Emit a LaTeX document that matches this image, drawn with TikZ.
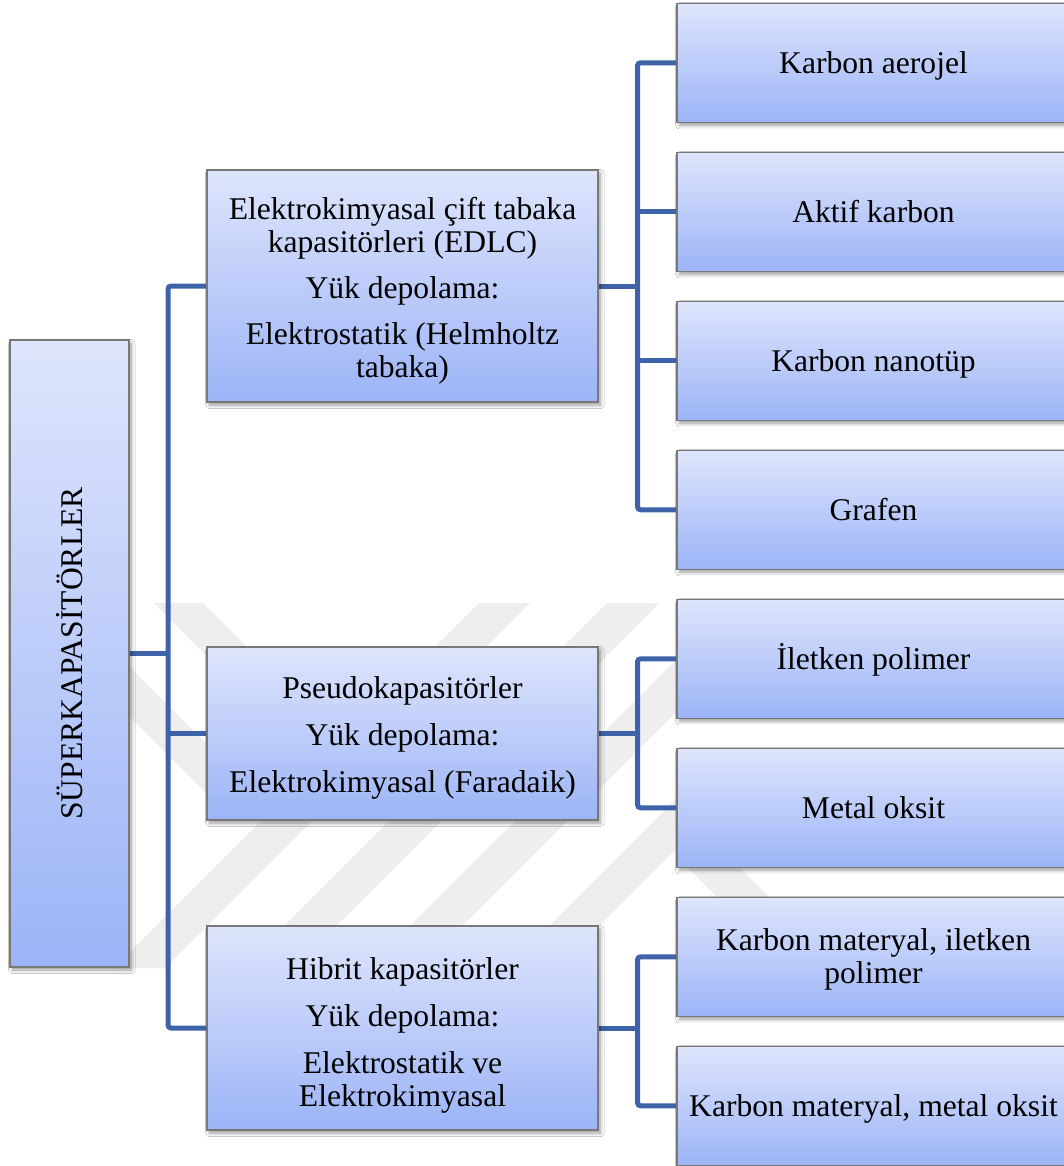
\documentclass[tikz,border=0pt]{standalone}
\usepackage{fontspec}
\setmainfont{Liberation Serif}
\usetikzlibrary{shadows.blur}
\definecolor{conncol}{RGB}{62,99,168}
\definecolor{boxtop}{RGB}{222,229,252}
\definecolor{boxbot}{RGB}{156,180,247}
\definecolor{boxline}{RGB}{120,120,120}
\definecolor{wmark}{RGB}{238,238,238}
\pgfdeclarelayer{bg}
\pgfsetlayers{bg,main}
\begin{document}
\begin{tikzpicture}[x=0.5pt,y=-0.5pt,
  boxtext/.style={inner sep=0pt, align=center, font={\fontsize{15.8}{16.5}\selectfont}},
  box/.style={boxtext, draw=boxline, line width=0.6pt, top color=boxtop, bottom color=boxbot,
    blur shadow={shadow xshift=1.2pt, shadow yshift=-1.5pt, shadow opacity=40, shadow blur steps=6}},
  midbox/.style={box, minimum width=195.5pt},
  leafbox/.style={box, minimum width=196.5pt, minimum height=59.5pt},
  oneline/.style={text height=10.4pt, text depth=0pt},
  conn/.style={draw=conncol, line width=2.5pt, rounded corners=1.5pt},
  wm/.style={fill=wmark}]
\useasboundingbox (0,0) rectangle (1064,1166);

% root
\node[box, minimum width=59.5pt, minimum height=313.5pt] (root) at (69.5,653.5) {\rotatebox{90}{SÜPERKAPASİTÖRLER}};

% middle level
\node[midbox, minimum height=116pt] (edlc) at (402.5,286) {};
\node[boxtext] (edlcT) at ([yshift=-2.5pt]edlc.center) {Elektrokimyasal çift tabaka\\kapasitörleri (EDLC)\\[6.5pt]Yük depolama:\\[6.5pt]Elektrostatik (Helmholtz\\tabaka)};
\node[midbox, minimum height=86.5pt] (pse) at (402.5,733.5) {};
\node[boxtext] (pseT) at ([yshift=-2pt]pse.center) {Pseudokapasitörler\\[7pt]Yük depolama:\\[7pt]Elektrokimyasal (Faradaik)};
\node[midbox, minimum height=102pt] (hib) at (402.5,1028) {};
\node[boxtext] (hibT) at ([yshift=-3.5pt]hib.center) {Hibrit kapasitörler\\[7pt]Yük depolama:\\[7pt]Elektrostatik ve\\Elektrokimyasal};

% leaves
\node[leafbox, oneline] (l1) at (873.5,62.8) {Karbon aerojel};
\node[leafbox, oneline] (l2) at (873.5,211.8) {Aktif karbon};
\node[leafbox, oneline] (l3) at (873.5,360.8) {Karbon nanotüp};
\node[leafbox, oneline] (l4) at (873.5,509.8) {Grafen};
\node[leafbox, oneline] (l5) at (873.5,658.8) {İletken polimer};
\node[leafbox, oneline] (l6) at (873.5,807.8) {Metal oksit};
\node[leafbox] (l7) at (873.5,956.8) {};
\node[boxtext] (l7T) at ([yshift=-1.5pt]l7.center) {Karbon materyal, iletken\\polimer};
\node[leafbox, oneline] (l8) at (873.5,1105.8) {Karbon materyal, metal oksit};

\coordinate (tk) at (168,0);
\coordinate (br) at (637.5,0);

\begin{pgfonlayer}{bg}
\fill[white] (0,0) rectangle (1064,1166);
% watermark
\fill[wm] (479,603) -- (530,603) -- (165,968) -- (114,968) -- cycle;
\fill[wm] (607,603) -- (659,603) -- (294,968) -- (242,968) -- cycle;
\fill[wm] (733,603) -- (785,603) -- (420,968) -- (368,968) -- cycle;
\fill[wm] (715,760) -- (765,760) -- (557,968) -- (507,968) -- cycle;
\fill[wm] (154,603) -- (203,603) -- (360,760) -- (311,760) -- cycle;
\fill[wm] (110,647) -- (230,767) -- (230,817) -- (110,697) -- cycle;
\fill[wm] (680,860) -- (732,860) -- (772,900) -- (720,900) -- cycle;
% connectors
\draw[conn] (edlc.west) -| (tk |- hib.west) -- (hib.west);
\draw[conn] (root.east) -- (root.east -| tk);
\draw[conn] (pse.west) -- (pse.west -| tk);
\draw[conn] (l1.west) -| (br |- l4.west) -- (l4.west);
\draw[conn] (l2.west) -- (l2.west -| br);
\draw[conn] (l3.west) -- (l3.west -| br);
\draw[conn] (edlc.east) -- (edlc.east -| br);
\draw[conn] (l5.west) -| (br |- l6.west) -- (l6.west);
\draw[conn] (pse.east) -- (pse.east -| br);
\draw[conn] (l7.west) -| (br |- l8.west) -- (l8.west);
\draw[conn] (hib.east) -- (hib.east -| br);
\end{pgfonlayer}
\end{tikzpicture}
\end{document}
